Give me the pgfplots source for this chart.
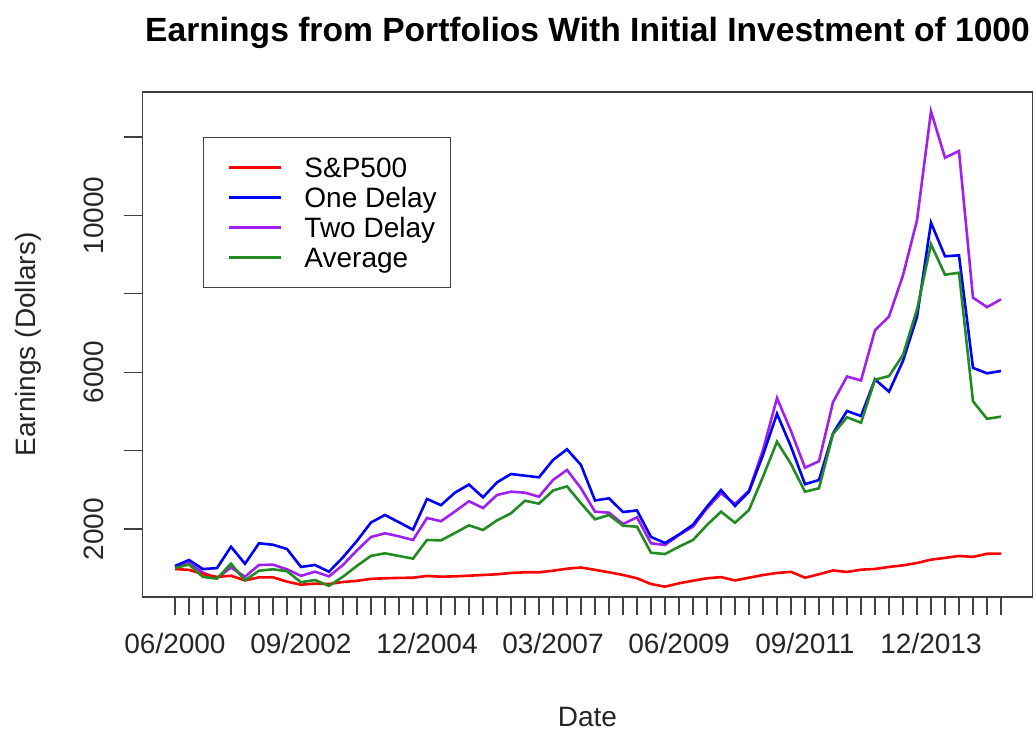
\documentclass[border=0pt]{standalone}
\usepackage{fontspec}
\setmainfont{Liberation Sans}
\usepackage{pgfplots}
\usepackage{pgfplotstable}
\pgfplotsset{compat=1.18}
\definecolor{rpurple}{HTML}{A020F0}
\definecolor{rgreen}{HTML}{228B22}
\pgfplotstableread{
idx sp one two avg
0 980 1058 1033 1008
1 960 1211 1135 1097
2 850 980 890 780
3 780 1005 745 736
4 810 1550 1020 1118
5 690 1115 785 692
6 770 1637 1084 938
7 770 1600 1092 974
8 660 1492 974 925
9 580 1035 807 645
10 610 1084 913 700
11 600 913 794 552
12 650 1280 1084 785
13 680 1700 1458 1062
14 730 2168 1798 1317
15 745 2359 1892 1382
16 755 2173 1815 1313
17 760 1985 1721 1246
18 805 2767 2283 1721
19 785 2610 2200 1712
20 795 2930 2450 1900
21 811 3135 2710 2095
22 829 2810 2537 1976
23 847 3190 2869 2222
24 880 3404 2953 2402
25 898 3361 2928 2723
26 898 3320 2826 2648
27 938 3761 3251 2983
28 990 4034 3506 3089
29 1020 3634 3040 2657
30 960 2730 2443 2249
31 898 2784 2418 2359
32 829 2435 2129 2086
33 745 2475 2300 2061
34 599 1800 1637 1397
35 531 1645 1594 1364
36 617 1860 1849 1550
37 683 2110 2061 1721
38 745 2570 2530 2104
39 775 2996 2912 2443
40 690 2590 2640 2162
41 760 2953 2980 2486
42 829 3889 4016 3335
43 880 4940 5340 4228
44 910 4100 4500 3659
45 760 3145 3565 2953
46 847 3251 3730 3040
47 945 4442 5235 4424
48 905 5011 5890 4850
49 965 4883 5790 4713
50 982 5819 7070 5810
51 1035 5503 7420 5900
52 1075 6290 8471 6440
53 1135 7410 9874 7600
54 1220 9813 12653 9262
55 1265 8956 11470 8486
56 1315 8981 11641 8537
57 1290 6110 7900 5257
58 1370 5972 7660 4812
59 1375 6031 7859 4866
}\datatable
\begin{document}
\begin{tikzpicture}
\path[use as bounding box] (0,0) rectangle (517pt,366pt);
\begin{axis}[
  at={(71.25pt,67.5pt)}, anchor=south west,
  scale only axis, width=445pt, height=252.5pt,
  xmin=-2.32, xmax=61.25, ymin=268, ymax=13146,
  scaled y ticks=false,
  axis line style={black!75, line width=0.6pt},
  tick style={black!75, line width=0.6pt},
  tick align=outside, major tick length=9pt,
  xtick pos=left, ytick pos=left,
  xtick={0,...,59}, xticklabels={},
  extra x ticks={0,9,18,27,36,45,54},
  extra x tick labels={06/2000,09/2002,12/2004,03/2007,06/2009,09/2011,12/2013},
  ytick={2000,4000,6000,8000,10000,12000},
  yticklabels={2000,,6000,,10000,},
  tick label style={font=\fontsize{14}{16}\selectfont, black!85},
  xticklabel style={anchor=base, inner sep=0pt, yshift=-19.5pt},
  yticklabel style={inner sep=0pt, xshift=-10.5pt, rotate=90, anchor=base},
  title={Earnings from Portfolios With Initial Investment of 1000},
  title style={at={(axis description cs:0.5,1.097)}, anchor=base, yshift=-5pt, inner sep=0pt, font=\bfseries\fontsize{16.8}{20}\selectfont},
  xlabel={Date},
  xlabel style={at={(axis description cs:0.5,-0.2574)}, anchor=base, inner sep=0pt, font=\fontsize{14}{16}\selectfont, black!85},
  ylabel={Earnings (Dollars)},
  ylabel style={at={(axis description cs:-0.1287,0.5)}, anchor=center, inner sep=0pt, font=\fontsize{14}{16}\selectfont, black!85},
  legend cell align=left,
  legend image code/.code={\path (0pt,0pt); \draw[#1, line width=1.3pt] (5pt,0pt) -- (31.3pt,0pt);},
  legend style={at={(axis description cs:0.0676,0.9115)}, anchor=north west,
    draw=black!75, line width=0.6pt, font=\fontsize{14}{16}\selectfont,
    inner xsep=7pt, inner ysep=7.5pt,
    nodes={inner sep=0pt, text height=12.5pt, text depth=2.5pt, anchor=west},
    /tikz/every odd column/.append style={column sep=11pt}},
]
\addplot[rpurple, line width=1.3pt, forget plot] table[x=idx, y=two] {\datatable};
\addplot[red, line width=1.3pt] table[x=idx, y=sp] {\datatable};
\addlegendentry{S\&P500}
\addplot[blue, line width=1.3pt] table[x=idx, y=one] {\datatable};
\addlegendentry{One Delay}
\addlegendimage{rpurple}
\addlegendentry{Two Delay}
\addplot[rgreen, line width=1.3pt] table[x=idx, y=avg] {\datatable};
\addlegendentry{Average}
\end{axis}
\end{tikzpicture}
\end{document}
